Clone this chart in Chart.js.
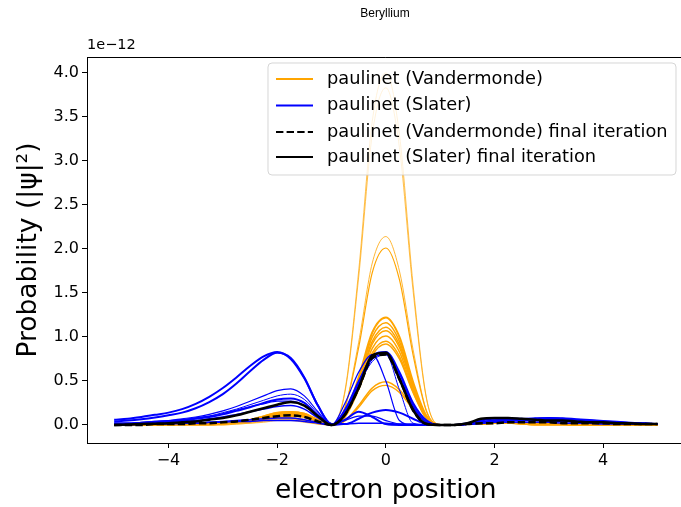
<!DOCTYPE html>
<html>
<head>
<meta charset="utf-8">
<script src="https://cdn.jsdelivr.net/npm/chart.js@4.4.0/dist/chart.umd.min.js"></script>
<style>
  html, body { margin: 0; padding: 0; background: #fff; overflow: hidden; }
  #wrap { width: 690px; height: 507px; }
</style>
</head>
<body>
<div id="wrap"><canvas id="c" width="690" height="507"></canvas></div>
<script>
// electron position grid (shared by every curve)
const positions = [-5,-4.75,-4.5,-4.25,-4,-3.75,-3.5,-3.25,-3,-2.75,-2.5,-2.25,-2,-1.75,-1.5,-1.25,-1,-0.75,-0.5,-0.25,0,
  0.25,0.5,0.75,1,1.25,1.5,1.75,2,2.25,2.5,2.75,3,3.25,3.5,3.75,4,4.25,4.5,4.75,5];

// paulinet (Vandermonde) iterations, values in units of 1e-12
const vand1 = [0,0,0,0,0,0,0,0,0, 0.01,0.02,0.03,0.05,0.05,0.03,0.01,0, 0.4,1.75,3.45,4.0,3.3,1.6,0.3, 0,0,0.01,0.02,0.02,0.02,0.01, 0,0,0,0,0,0,0,0,0,0];
const vand2 = [0,0,0,0,0,0,0,0,0, 0.01,0.02,0.04,0.06,0.06,0.04,0.01,0, 0.38,1.68,3.3,3.83,3.15,1.53,0.29, 0,0,0.01,0.02,0.02,0.02,0.01, 0,0,0,0,0,0,0,0,0,0];
const vand3 = [0,0,0,0,0,0,0,0, 0.01,0.02,0.03,0.05,0.07,0.07,0.05,0.02,0, 0.21,0.94,1.84,2.14,1.75,0.86,0.16, 0,0,0.01,0.02,0.03,0.02,0.01, 0,0,0,0,0,0,0,0,0,0];
const vand4 = [0,0,0,0,0,0,0,0, 0.01,0.02,0.04,0.06,0.08,0.08,0.06,0.02,0, 0.2,0.88,1.73,2.01,1.65,0.8,0.15, 0,0,0.01,0.02,0.03,0.02,0.01, 0,0,0,0,0,0,0,0,0,0];
const vand5 = [0,0,0,0,0.01,0.01,0.01, 0.02,0.02,0.03,0.05,0.08,0.12,0.13,0.11,0.05,0, 0.12,0.54,1.05,1.22,1.0,0.49,0.1, 0,0,0.01,0.02,0.03,0.03,0.02,0.02,0.01,0.01, 0,0,0,0,0,0,0];
const vand6 = [0,0,0,0,0.01,0.01,0.01, 0.02,0.03,0.04,0.06,0.09,0.13,0.14,0.12,0.05,0, 0.12,0.51,1.0,1.16,0.95,0.46,0.09, 0,0,0.01,0.02,0.03,0.03,0.02,0.02,0.01,0.01, 0,0,0,0,0,0,0];
const vand7 = [0,0,0,0,0,0.01,0.01, 0.01,0.02,0.03,0.05,0.07,0.11,0.12,0.1,0.04,0, 0.11,0.49,0.95,1.11,0.91,0.44,0.09, 0,0,0.01,0.01,0.02,0.02,0.02,0.01,0.01,0.01, 0,0,0,0,0,0,0];
const vand8 = [0,0,0,0,0.01,0.01,0.01, 0.02,0.03,0.04,0.06,0.1,0.14,0.15,0.13,0.06,0, 0.11,0.47,0.92,1.07,0.88,0.43,0.08, 0,0,0.01,0.02,0.03,0.03,0.02,0.02,0.01,0.01, 0,0,0,0,0,0,0];
const vand9 = [0,0,0,0,0,0.01,0.01, 0.01,0.02,0.03,0.04,0.07,0.1,0.11,0.09,0.04,0, 0.1,0.44,0.87,1.01,0.83,0.4,0.08, 0,0,0.01,0.02,0.02,0.02,0.02,0.01,0.01,0.01, 0,0,0,0,0,0,0];
const vand10 = [0,0,0,0,0.01,0.01,0.01, 0.02,0.02,0.03,0.05,0.08,0.12,0.13,0.11,0.05,0, 0.1,0.42,0.82,0.95,0.78,0.38,0.07, 0,0,0.01,0.02,0.03,0.03,0.02,0.02,0.01,0.01, 0,0,0,0,0,0,0];
const vand11 = [0,0,0,0,0,0.01,0.01, 0.01,0.02,0.03,0.04,0.06,0.09,0.1,0.09,0.04,0, 0.09,0.4,0.79,0.92,0.75,0.37,0.07, 0,0,0.01,0.01,0.02,0.02,0.02,0.01,0.01,0.01, 0,0,0,0,0,0,0];
const vand12 = [0,0,0,0,0.01,0.01,0.01, 0.02,0.03,0.04,0.06,0.1,0.14,0.15,0.13,0.06,0, 0.05,0.22,0.42,0.49,0.4,0.2,0.04, 0,0,0.01,0.02,0.03,0.03,0.02,0.02,0.01,0.01, 0,0,0,0,0,0,0];
const vand13 = [0,0,0,0,0.01,0.01,0.01, 0.01,0.02,0.03,0.05,0.08,0.11,0.12,0.1,0.05,0, 0.05,0.2,0.39,0.45,0.37,0.18,0.04, 0,0,0.01,0.01,0.02,0.02,0.02,0.01,0.01,0.01, 0,0,0,0,0,0,0];

// paulinet (Slater) iterations
const slat1 = [0.06,0.07,0.09,0.115,0.14,0.18,0.24,0.32,0.42,0.54,0.67,0.78,0.83,0.75,0.53,0.22,0.01, 0.01,0.07,0.14,0.17,0.14,0.07,0.01, 0,0,0.01,0.03,0.05,0.06,0.06,0.07,0.08,0.07,0.06,0.05,0.04,0.03,0.02,0.02,0.01];
const slat2 = [0.04,0.05,0.065,0.085,0.11,0.14,0.19,0.26,0.35,0.47,0.61,0.74,0.82,0.76,0.54,0.22,0.01, 0.06,0.15,0.09,0.01,0,0,0, 0,0,0.01,0.02,0.04,0.05,0.05,0.06,0.06,0.06,0.05,0.04,0.03,0.03,0.02,0.01,0.01];
const slat3 = [0.02,0.02,0.03,0.04,0.05,0.07,0.09,0.12,0.16,0.21,0.27,0.33,0.39,0.41,0.33,0.15,0, 0.25,0.6,0.8,0.5,0.05,0,0, 0,0,0.01,0.02,0.04,0.05,0.06,0.07,0.08,0.08,0.07,0.06,0.05,0.04,0.03,0.02,0.01];
const slat4 = [0.01,0.02,0.02,0.03,0.04,0.06,0.08,0.1,0.14,0.18,0.23,0.28,0.33,0.35,0.29,0.13,0, 0.15,0.45,0.72,0.8,0.4,0.02,0, 0,0,0.01,0.02,0.04,0.05,0.06,0.06,0.07,0.07,0.06,0.05,0.04,0.03,0.02,0.02,0.01];
const slat5 = [0.01,0.01,0.02,0.03,0.04,0.05,0.07,0.09,0.12,0.16,0.2,0.25,0.29,0.3,0.25,0.11,0, 0.16,0.48,0.78,0.83,0.6,0.25,0.05, 0,0,0.02,0.05,0.07,0.07,0.07,0.06,0.05,0.05,0.04,0.03,0.03,0.02,0.02,0.01,0.01];
const slat6 = [0.01,0.01,0.02,0.02,0.03,0.04,0.05,0.07,0.09,0.12,0.15,0.18,0.21,0.22,0.18,0.08,0, 0.14,0.45,0.75,0.8,0.55,0.2,0.03, 0,0,0.01,0.03,0.05,0.06,0.06,0.06,0.05,0.05,0.04,0.03,0.03,0.02,0.02,0.01,0.01];
const slat7 = [0.01,0.01,0.01,0.01,0.02,0.02,0.02,0.03,0.03,0.04,0.04,0.05,0.05,0.05,0.04,0.02,0, 0.01,0.02,0.02,0.02,0.01,0.01,0, 0,0,0.01,0.02,0.03,0.03,0.03,0.03,0.03,0.02,0.02,0.02,0.01,0.01,0.01,0.01,0.01];
const slat8 = [0.02,0.02,0.03,0.04,0.05,0.06,0.08,0.1,0.13,0.17,0.21,0.24,0.27,0.27,0.22,0.1,0, 0.05,0.1,0.1,0.05,0.01,0,0, 0,0,0.01,0.03,0.05,0.06,0.07,0.08,0.08,0.07,0.06,0.05,0.04,0.03,0.02,0.02,0.01];
const slat9 = [0,0,0.01,0.01,0.01,0.02,0.02,0.03,0.04,0.05,0.06,0.07,0.08,0.08,0.06,0.03,0, 0.18,0.5,0.77,0.82,0.58,0.22,0.03, 0,0,0.01,0.03,0.05,0.05,0.05,0.05,0.04,0.04,0.03,0.03,0.02,0.02,0.01,0.01,0.01];

// final iterations
const vandFinal = [0,0,0,0.01,0.01,0.01,0.02,0.02,0.03,0.04,0.06,0.08,0.1,0.11,0.09,0.04,0, 0.12,0.42,0.76,0.8,0.52,0.17,0.01, 0,0,0.01,0.02,0.02,0.03,0.03,0.03,0.03,0.02,0.02,0.02,0.02,0.01,0.01,0.01,0.01];
const slatFinal = [0,0.005,0.01,0.015,0.02,0.03,0.04,0.06,0.08,0.11,0.15,0.19,0.23,0.26,0.22,0.1,0, 0.12,0.42,0.79,0.82,0.52,0.17,0.01, 0,0,0.02,0.07,0.08,0.08,0.07,0.06,0.05,0.05,0.04,0.03,0.03,0.02,0.02,0.01,0.01];

const xTicks = [-4, -2, 0, 2, 4];
const yTicks = [0, 0.5, 1, 1.5, 2, 2.5, 3, 3.5, 4];
const legendLabels = ['paulinet (Vandermonde)', 'paulinet (Slater)', 'paulinet (Vandermonde) final iteration', 'paulinet (Slater) final iteration'];

const vandRuns = [vand1, vand2, vand3, vand4, vand5, vand6, vand7, vand8, vand9, vand10, vand11, vand12, vand13];
const slatRuns = [slat1, slat2, slat3, slat4, slat5, slat6, slat7, slat8, slat9];
const vandWidths = [0.7, 0.7, 0.8, 1.2, 2, 1.5, 1.5, 1.5, 1.5, 1.5, 1.5, 1.6, 1.4];
const slatWidths = [2, 2, 1.2, 1, 2, 1.5, 1.5, 1.2, 1.5];

function pts(vals) {
  return vals.map((v, i) => ({ x: positions[i], y: v }));
}
function line(vals, color, width, dash) {
  return {
    data: pts(vals),
    borderColor: color,
    borderWidth: width,
    borderDash: dash || [],
    pointRadius: 0,
    fill: false,
    cubicInterpolationMode: 'monotone'
  };
}

// first dataset is drawn on top in chart.js
const datasets = [];
datasets.push(line(slatFinal, '#000000', 2.5));
datasets.push(line(vandFinal, '#000000', 2.5, [7.4, 3.2]));
slatRuns.forEach((r, i) => datasets.push(line(r, '#0000ff', slatWidths[i])));
vandRuns.forEach((r, i) => datasets.push(line(r, '#ffa500', vandWidths[i])));

const minus = s => String(s).replace('-', '\u2212');

const extras = {
  id: 'extras',
  afterDatasetsDraw(chart) {
    const ctx = chart.ctx;
    const a = chart.chartArea;
    ctx.save();
    // top + right spines
    ctx.strokeStyle = '#000';
    ctx.lineWidth = 1;
    ctx.beginPath();
    ctx.moveTo(a.left, a.top + 0.5);
    ctx.lineTo(a.right, a.top + 0.5);
    ctx.moveTo(a.right - 0.5, a.top);
    ctx.lineTo(a.right - 0.5, a.bottom);
    ctx.stroke();

    // legend box
    const bx = 268, by = 63, bw = 408, bh = 112, r = 4;
    ctx.beginPath();
    ctx.moveTo(bx + r, by);
    ctx.arcTo(bx + bw, by, bx + bw, by + bh, r);
    ctx.arcTo(bx + bw, by + bh, bx, by + bh, r);
    ctx.arcTo(bx, by + bh, bx, by, r);
    ctx.arcTo(bx, by, bx + bw, by, r);
    ctx.closePath();
    ctx.fillStyle = 'rgba(255,255,255,0.8)';
    ctx.fill();
    ctx.strokeStyle = 'rgba(204,204,204,0.8)';
    ctx.stroke();

    const rows = [79, 105.5, 132, 157];
    const cols = ['#ffa500', '#0000ff', '#000000', '#000000'];
    const dashes = [[], [], [7.4, 3.2], []];
    ctx.font = '17.8px "DejaVu Sans"';
    ctx.textBaseline = 'middle';
    ctx.textAlign = 'left';
    legendLabels.forEach((lab, i) => {
      ctx.strokeStyle = cols[i];
      ctx.lineWidth = 2;
      ctx.setLineDash(dashes[i]);
      ctx.beginPath();
      ctx.moveTo(276, rows[i]);
      ctx.lineTo(313, rows[i]);
      ctx.stroke();
      ctx.setLineDash([]);
      ctx.fillStyle = '#000';
      ctx.fillText(lab, 327, rows[i]);
    });

    // offset text and title
    ctx.font = '14.5px "DejaVu Sans"';
    ctx.fillText('1e\u221212', a.left, 45);
    ctx.font = '12px "Liberation Sans"';
    ctx.textAlign = 'center';
    ctx.fillText('Beryllium', 385, 14);
    ctx.restore();
  }
};

new Chart(document.getElementById('c'), {
  type: 'line',
  data: { datasets },
  plugins: [extras],
  options: {
    responsive: false,
    animation: false,
    layout: { padding: { left: 0, top: 57, right: 5.3, bottom: 0 } },
    plugins: { legend: { display: false }, tooltip: { enabled: false } },
    scales: {
      x: {
        type: 'linear',
        min: -5.5,
        max: 5.5,
        afterBuildTicks: s => { s.ticks = xTicks.map(v => ({ value: v })); },
        afterFit: s => { s.height = 64; },
        grid: { drawOnChartArea: false, tickLength: 5, color: '#000' },
        border: { color: '#000', width: 1 },
        ticks: { color: '#000', font: { family: 'DejaVu Sans', size: 16 }, padding: 3, maxRotation: 0, callback: v => minus(v) },
        title: { display: true, text: 'electron position', color: '#000', font: { family: 'DejaVu Sans', size: 26.5 }, padding: { top: 0, bottom: 0 } }
      },
      y: {
        type: 'linear',
        min: -0.205,
        max: 4.18,
        afterBuildTicks: s => { s.ticks = yTicks.map(v => ({ value: v })); },
        afterFit: s => { s.width = 87; },
        grid: { drawOnChartArea: false, tickLength: 5, color: '#000' },
        border: { color: '#000', width: 1 },
        ticks: { color: '#000', font: { family: 'DejaVu Sans', size: 16 }, padding: 3, callback: v => Number(v).toFixed(1) },
        title: { display: true, text: 'Probability (|\u03c8|\u00b2)', color: '#000', font: { family: 'DejaVu Sans', size: 26.5 }, padding: { top: 13, bottom: 0 } }
      }
    }
  }
});
</script>
</body>
</html>
